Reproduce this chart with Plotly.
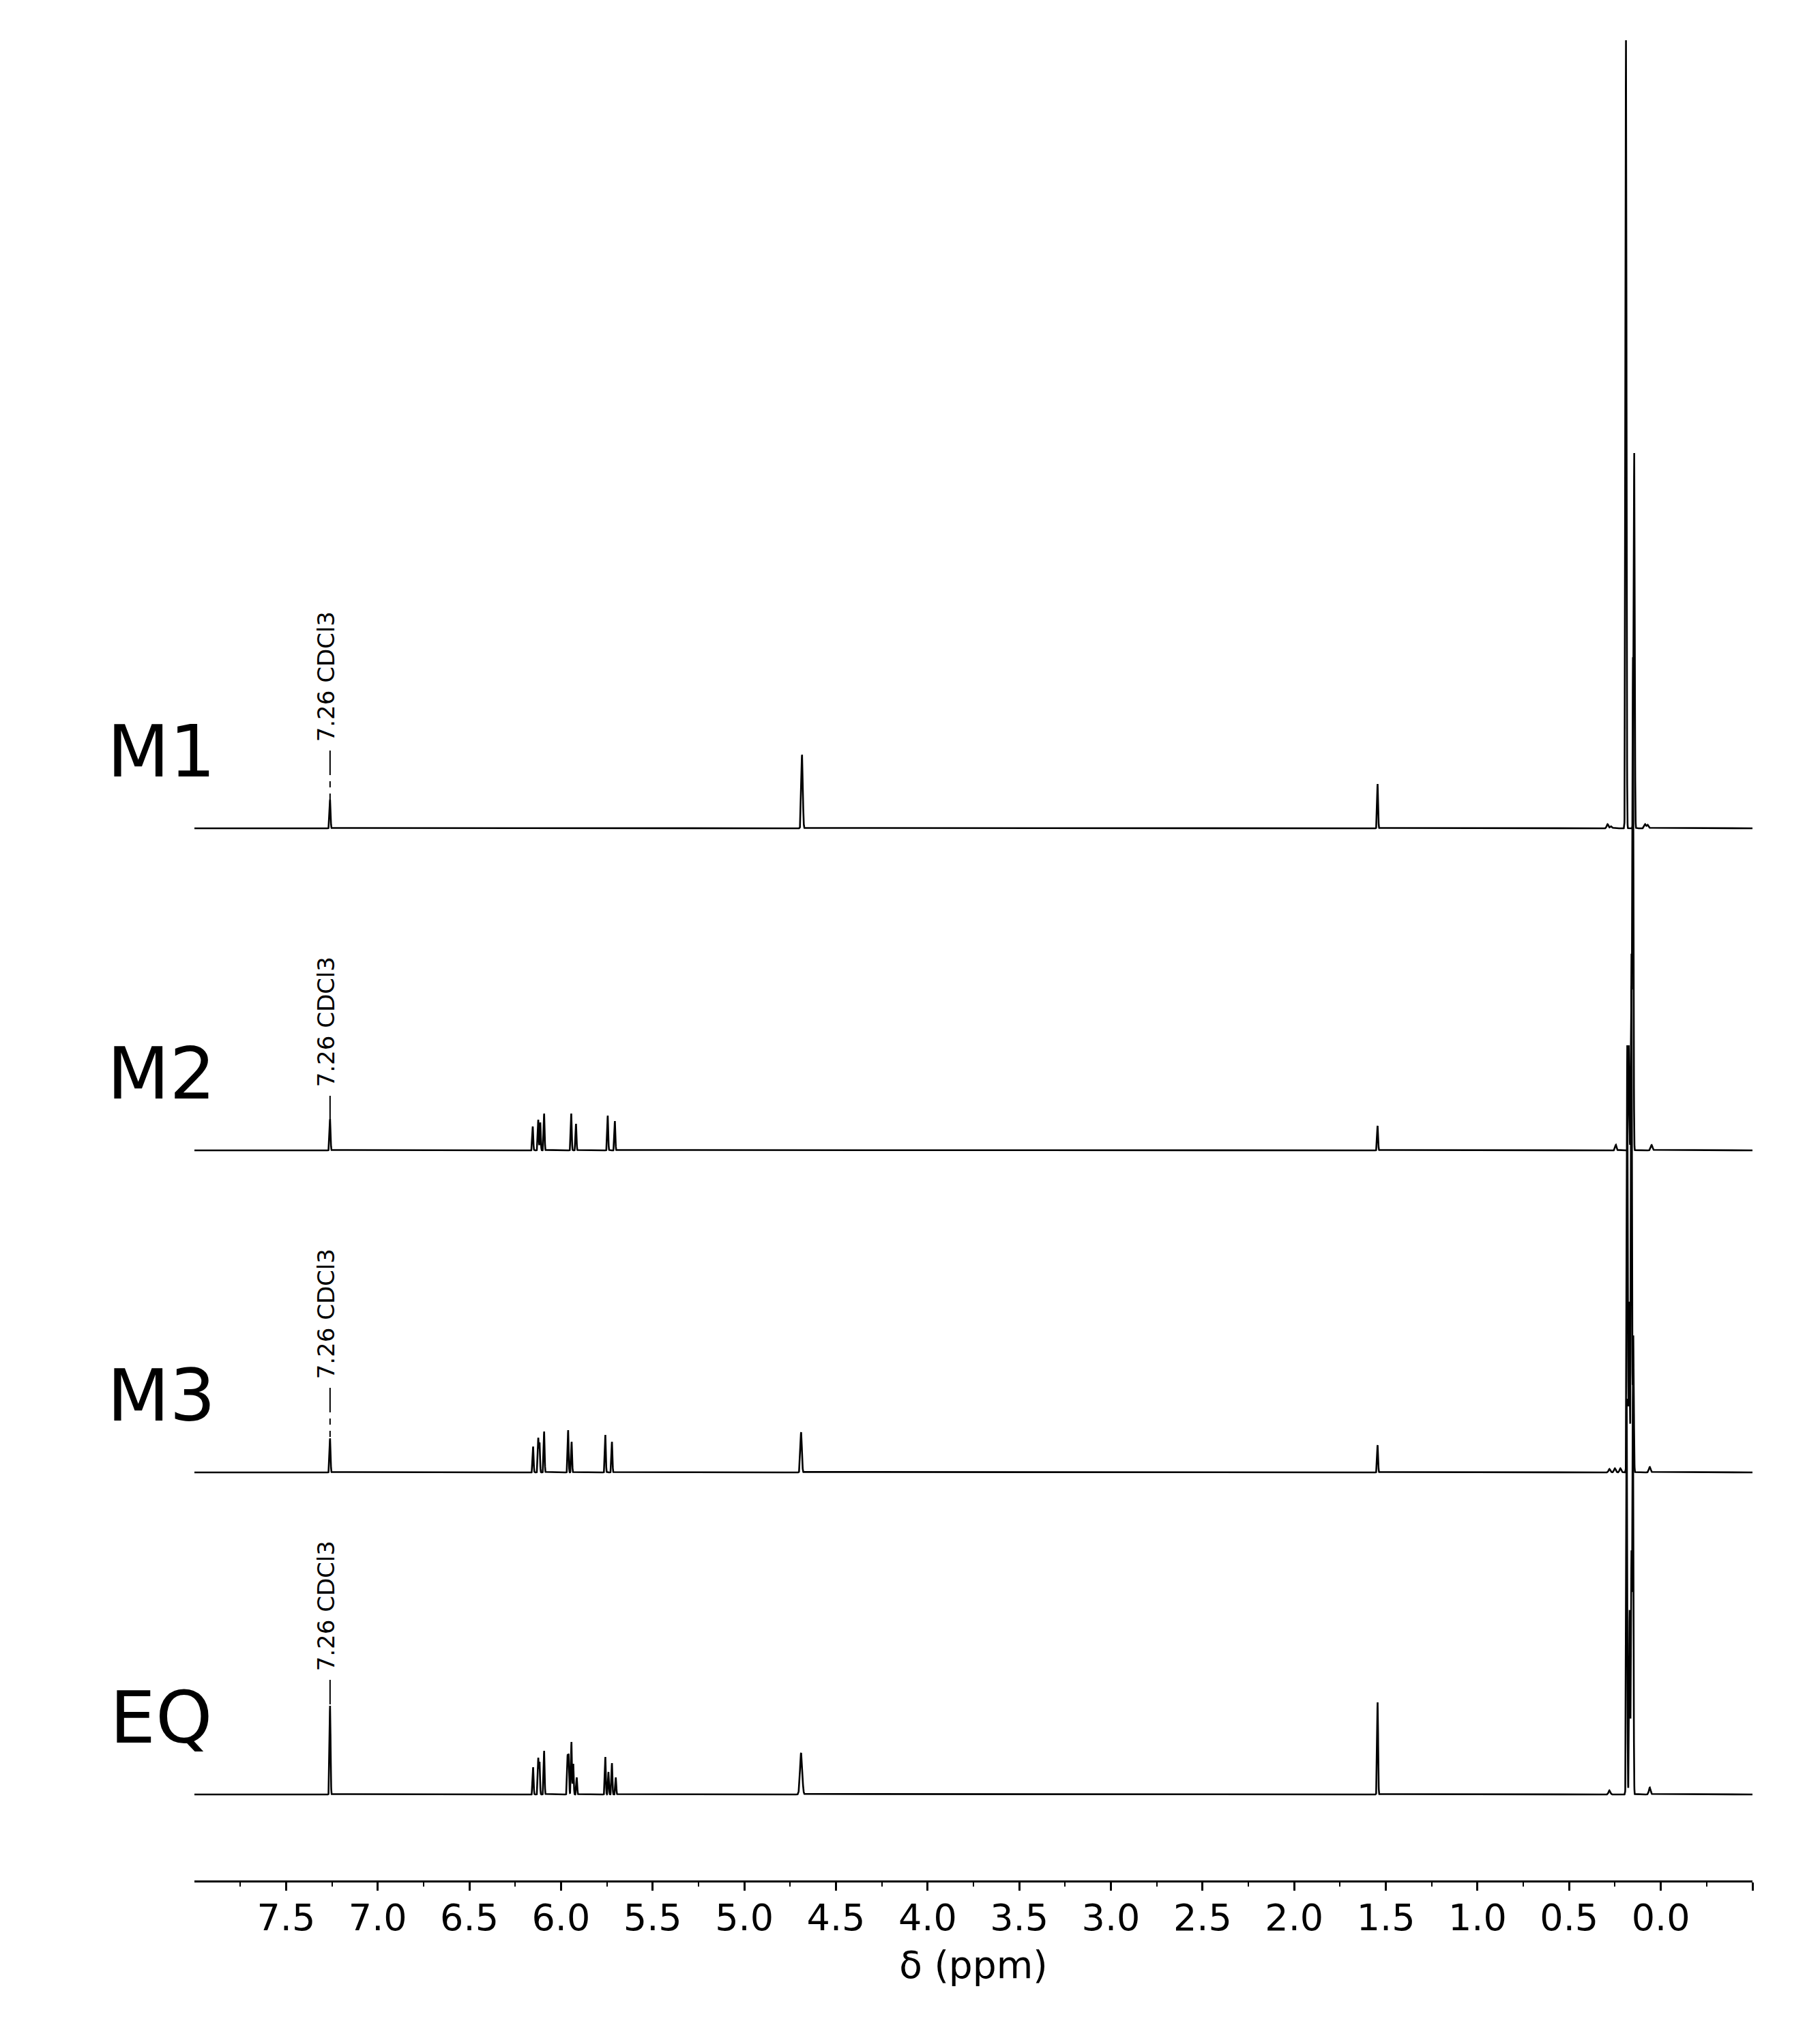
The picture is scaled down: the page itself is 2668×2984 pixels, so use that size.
import numpy as np
import plotly.graph_objects as go

# ---------------- data ----------------
samples = ["M1", "M2", "M3", "EQ"]
# baseline offset of each stacked spectrum (intensity units)
offsets = [1416, 944, 472, 0]

# peak lists: chemical shift (ppm), height (intensity units), line sigma (ppm)
m1_ppm = [7.26, 4.685, 1.545, 0.290, 0.270, 0.190, 0.145, 0.085, 0.070]
m1_int = [42, 108, 65, 6, 3, 1155, 550, 6, 5]
m1_sig = [0.0027, 0.004, 0.0027, 0.005, 0.005, 0.0027, 0.0027, 0.005, 0.005]

m2_ppm = [7.26, 6.154, 6.124, 6.113, 6.092, 5.944, 5.918, 5.745, 5.706,
          1.545, 0.245, 0.175, 0.160, 0.152, 0.050]
m2_int = [46, 35, 45, 41, 54, 54, 39, 51, 43,
          36, 8, 154, 230, 720, 8]
m2_sig = [0.0027, 0.0025, 0.0025, 0.0025, 0.0025, 0.0025, 0.0025, 0.0025, 0.0025,
          0.0027, 0.004, 0.0027, 0.0027, 0.0027, 0.005]

m3_ppm = [7.26, 6.152, 6.124, 6.117, 6.092, 5.961, 5.942, 5.758, 5.722,
          4.690, 1.545, 0.280, 0.250, 0.220, 0.183, 0.172, 0.160, 0.150, 0.060]
m3_int = [50, 38, 50, 43, 60, 62, 45, 55, 45,
          59, 40, 5, 6, 6, 626, 250, 760, 200, 8]
m3_sig = [0.0027, 0.0025, 0.0025, 0.0025, 0.0025, 0.0025, 0.0025, 0.0025, 0.0025,
          0.004, 0.0027, 0.005, 0.005, 0.005, 0.0027, 0.0027, 0.0027, 0.0027, 0.005]

eq_ppm = [7.26, 6.152, 6.124, 6.117, 6.092, 5.964, 5.958, 5.943, 5.933, 5.914,
          5.758, 5.741, 5.722, 5.701, 4.690, 1.545, 0.280, 0.186, 0.170, 0.160,
          0.152, 0.060]
eq_int = [130, 40, 53, 47, 64, 55, 56, 77, 45, 25,
          55, 33, 46, 25, 61, 135, 6, 580, 270, 350,
          600, 10]
eq_sig = [0.0027, 0.0025, 0.0025, 0.0025, 0.0025, 0.0025, 0.0025, 0.0025, 0.0025, 0.0025,
          0.0025, 0.0025, 0.0025, 0.0025, 0.006, 0.0027, 0.005, 0.0027, 0.0027, 0.0027,
          0.0027, 0.005]

peak_lists = [(m1_ppm, m1_int, m1_sig), (m2_ppm, m2_int, m2_sig),
              (m3_ppm, m3_int, m3_sig), (eq_ppm, eq_int, eq_sig)]

# solvent annotation: height of text bottom above each baseline
solvent_label = "7.26 CDCl3"
solvent_ppm = 7.26
label_bottom = [125, 91, 135, 179]

tick_vals = [7.5, 7.0, 6.5, 6.0, 5.5, 5.0, 4.5, 4.0, 3.5, 3.0, 2.5, 2.0, 1.5, 1.0, 0.5, 0.0, -0.5]
tick_text = ["7.5", "7.0", "6.5", "6.0", "5.5", "5.0", "4.5", "4.0", "3.5", "3.0",
             "2.5", "2.0", "1.5", "1.0", "0.5", "0.0", ""]
x_range = [8.0, -0.5]

# ---------------- build figure ----------------
fig = go.Figure()
grid = np.arange(x_range[1], x_range[0] + 1e-9, 0.0005)

for name, off, (pp, hh, ss) in zip(samples, offsets, peak_lists):
    x = np.union1d(grid, np.array(pp))
    y = np.zeros_like(x)
    for p, h, s in zip(pp, hh, ss):
        y += h * np.exp(-0.5 * ((x - p) / s) ** 2)
    fig.add_trace(go.Scatter(x=x, y=y + off, mode="lines", name=name,
                             line=dict(color="black", width=2.6),
                             hoverinfo="skip", showlegend=False))

W, H = 2652, 2968
fig.update_layout(
    width=W, height=H,
    margin=dict(l=277, r=91, t=32, b=220),
    paper_bgcolor="white", plot_bgcolor="white",
    font=dict(family="DejaVu Sans", color="black"),
    showlegend=False,
)
fig.update_xaxes(
    range=x_range, showgrid=False, zeroline=False,
    showline=True, linecolor="black", linewidth=3,
    ticks="outside", ticklen=12, tickwidth=2.5, tickcolor="black",
    tickmode="array", tickvals=tick_vals, ticktext=tick_text,
    tickfont=dict(family="DejaVu Sans", size=54, color="black"),
    ticklabelstandoff=-7,
    minor=dict(ticks="outside", ticklen=6, tickwidth=2, tickcolor="black",
               tickmode="linear", tick0=0.25, dtick=0.5, showgrid=False),
    title=dict(text="δ (ppm)", font=dict(family="DejaVu Sans", size=55, color="black"),
               standoff=20),
)
fig.update_yaxes(visible=False, range=[-126, 2590], fixedrange=True)

# sample labels
for name, off in zip(samples, offsets):
    fig.add_annotation(x=(236 - 285) / 2284, xref="paper", y=off + 113, yref="y",
                       text=name, showarrow=False, xanchor="center", yanchor="middle",
                       font=dict(family="DejaVu Sans", size=106, color="black"))

# solvent labels and leaders
for (pp, hh, ss), off, lb in zip(peak_lists, offsets, label_bottom):
    top = off + hh[pp.index(solvent_ppm)]
    fig.add_annotation(x=solvent_ppm, xref="x", y=off + lb, yref="y",
                       text=solvent_label, textangle=-90, showarrow=False,
                       xanchor="center", yanchor="bottom", xshift=-6,
                       font=dict(family="DejaVu Sans", size=34, color="black"))
    y_start = off + lb - 11
    y_mid = y_start - 27
    if y_mid > top:
        fig.add_shape(type="line", xref="x", yref="y", x0=solvent_ppm, x1=solvent_ppm,
                      y0=y_start, y1=y_mid, line=dict(color="black", width=2))
        fig.add_shape(type="line", xref="x", yref="y", x0=solvent_ppm, x1=solvent_ppm,
                      y0=y_mid, y1=top, line=dict(color="black", width=2, dash="dash"))
    elif y_start > top:
        fig.add_shape(type="line", xref="x", yref="y", x0=solvent_ppm, x1=solvent_ppm,
                      y0=y_start, y1=top, line=dict(color="black", width=2))

fig.write_html("out.html")
